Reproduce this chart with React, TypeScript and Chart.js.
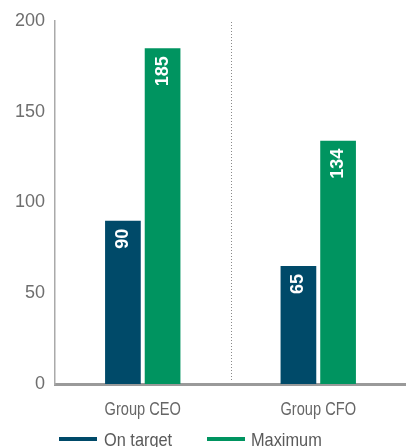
import React, { useEffect, useRef } from "react";
import { Chart, registerables } from "chart.js";

Chart.register(...registerables);

const categories = ["Group CEO", "Group CFO"];
const seriesNames = ["On target", "Maximum"];
const onTarget = [90, 65];
const maximum = [185, 134];
const yTicks = [0, 50, 100, 150, 200];

const BLUE = "#004a69";
const GREEN = "#009460";
const FONT = "'Liberation Sans', Arial, sans-serif";

const labelPlugin = {
  id: "barLabels",
  afterDatasetsDraw(chart: any) {
    const ctx = chart.ctx;
    ctx.save();
    ctx.fillStyle = "#ffffff";
    ctx.font = `bold 18px ${FONT}`;
    ctx.textAlign = "right";
    ctx.textBaseline = "middle";
    chart.data.datasets.forEach((ds: any, di: number) => {
      const meta = chart.getDatasetMeta(di);
      meta.data.forEach((bar: any, i: number) => {
        ctx.save();
        ctx.translate(bar.x, bar.y + 8);
        ctx.rotate(-Math.PI / 2);
        ctx.fillText(String(ds.data[i]), 0, 0);
        ctx.restore();
      });
    });
    ctx.restore();
  },
};

const separatorPlugin = {
  id: "separator",
  beforeDatasetsDraw(chart: any) {
    const ctx = chart.ctx;
    const xs = chart.scales.x;
    const area = chart.chartArea;
    const x = Math.round((xs.getPixelForValue(0) + xs.getPixelForValue(1)) / 2) + 0.5;
    ctx.save();
    ctx.strokeStyle = "#8a8a8a";
    ctx.lineWidth = 1;
    ctx.setLineDash([1, 2]);
    ctx.beginPath();
    ctx.moveTo(x, area.top + 1);
    ctx.lineTo(x, area.bottom - 3);
    ctx.stroke();
    ctx.restore();
  },
};

// condensed category labels, placed through the x scale
const categoryLabelPlugin = {
  id: "categoryLabels",
  afterDraw(chart: any) {
    const ctx = chart.ctx;
    const xs = chart.scales.x;
    ctx.save();
    ctx.font = `19px ${FONT}`;
    ctx.fillStyle = "#666666";
    ctx.textAlign = "center";
    ctx.textBaseline = "alphabetic";
    chart.data.labels.forEach((lab: string, i: number) => {
      ctx.save();
      ctx.translate(xs.getPixelForValue(i), chart.chartArea.bottom + 31);
      ctx.scale(0.77, 1);
      ctx.fillText(lab, 0, 0);
      ctx.restore();
    });
    ctx.restore();
  },
};

const legendPlugin = {
  id: "customLegend",
  afterDraw(chart: any) {
    const ctx = chart.ctx;
    const items = [
      { x: 59, textX: 104 },
      { x: 207, textX: 251 },
    ];
    ctx.save();
    ctx.font = `19px ${FONT}`;
    ctx.textBaseline = "alphabetic";
    ctx.textAlign = "left";
    chart.data.datasets.forEach((ds: any, i: number) => {
      const it = items[i];
      ctx.fillStyle = ds.backgroundColor;
      ctx.fillRect(it.x, 437, 38, 4);
      ctx.fillStyle = "#5a5a5a";
      ctx.save();
      ctx.translate(it.textX, 446);
      ctx.scale(0.86, 1);
      ctx.fillText(ds.label, 0, 0);
      ctx.restore();
    });
    ctx.restore();
  },
};

export default function App() {
  const ref = useRef<HTMLCanvasElement>(null);
  useEffect(() => {
    if (!ref.current) return;
    const chart = new Chart(ref.current, {
      type: "bar",
      data: {
        labels: categories,
        datasets: [
          { label: seriesNames[0], data: onTarget, backgroundColor: BLUE },
          { label: seriesNames[1], data: maximum, backgroundColor: GREEN },
        ],
      },
      options: {
        responsive: false,
        animation: false,
        layout: { padding: { top: 21, right: -3, left: 0, bottom: 0 } },
        datasets: { bar: { categoryPercentage: 0.452, barPercentage: 0.9 } },
        plugins: { legend: { display: false }, tooltip: { enabled: false } },
        scales: {
          x: {
            afterFit: (s: any) => {
              s.height = 63;
            },
            grid: { display: false, drawTicks: false },
            border: { display: true, color: "#9a9a9a", width: 3 },
            ticks: { display: false },
          },
          y: {
            min: 0,
            max: 200,
            afterFit: (s: any) => {
              s.width = 55;
            },
            afterBuildTicks: (s: any) => {
              s.ticks = yTicks.map((v) => ({ value: v }));
            },
            grid: { display: false, drawTicks: false },
            border: { display: true, color: "#aaaaaa", width: 1.5 },
            ticks: {
              color: "#6e6e6e",
              font: { family: FONT, size: 18 },
              padding: 10,
            },
          },
        },
      },
      plugins: [separatorPlugin, labelPlugin, categoryLabelPlugin, legendPlugin],
    });
    return () => chart.destroy();
  }, []);
  return (
    <div style={{ position: "fixed", left: 0, top: 0, width: 406, height: 447, background: "#fff" }}>
      <canvas ref={ref} width={406} height={447} />
    </div>
  );
}
